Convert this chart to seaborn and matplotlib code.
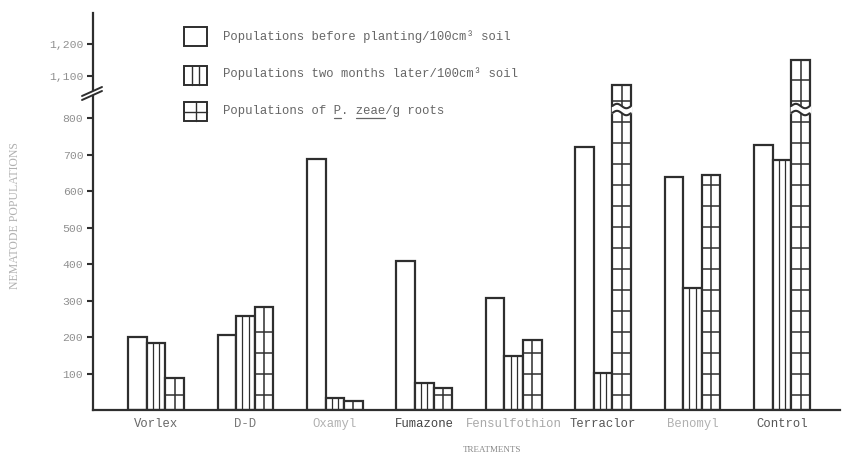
import numpy as np
import pandas as pd
import matplotlib
matplotlib.use('Agg')
import matplotlib.pyplot as plt
import seaborn as sns
from matplotlib.lines import Line2D
from matplotlib.patches import Rectangle, Polygon

# ---------------- data ----------------
treatments = ['Vorlex', 'D-D', 'Oxamyl', 'Fumazone', 'Fensulfothion',
              'Terraclor', 'Benomyl', 'Control']
series = ['Populations before planting/100cm\u00b3 soil',
          'Populations two months later/100cm\u00b3 soil',
          'Populations of P. zeae/g roots']
before = [200, 205, 688, 408, 307, 720, 638, 726]
later = [184, 258, 33, 74, 148, 101, 334, 685]
roots = [88, 282, 25, 60, 192, 1072, 644, 1150]
ytick_values = [100, 200, 300, 400, 500, 600, 700, 800, 1100, 1200]
ytick_labels = ['100', '200', '300', '400', '500', '600', '700', '800',
                '1,100', '1,200']
label_colors = ['#666666', '#777777', '#b0b0b0', '#444444', '#a8a8a8',
                '#555555', '#b0b0b0', '#555555']

EDGE = '#2e2e2e'
W, H = 848, 455


# broken-axis scale: linear to 800, compressed 800-1000, then linear again
def fwd(v):
    v = np.asarray(v, dtype=float)
    return np.where(v <= 800, v * 0.365,
                    np.where(v <= 1000, 292 + (v - 800) * 0.05,
                             302 + (v - 1000) * 0.32))


def inv(y):
    y = np.asarray(y, dtype=float)
    return np.where(y <= 292, y / 0.365,
                    np.where(y <= 302, 800 + (y - 292) / 0.05,
                             1000 + (y - 302) / 0.32))


sns.set_style('white')
plt.rcParams['font.family'] = ['Liberation Mono', 'DejaVu Sans']

fig = plt.figure(figsize=(W / 100, H / 100), dpi=100)
ax = fig.add_axes([93 / W, 45 / H, 747 / W, 397 / H])

df = pd.DataFrame({
    'treatment': treatments * 3,
    'series': [series[0]] * len(treatments) + [series[1]] * len(treatments)
              + [series[2]] * len(treatments),
    'value': before + later + roots,
})

sns.barplot(data=df, x='treatment', y='value', hue='series',
            order=treatments, hue_order=series,
            palette=['white'] * 3, saturation=1, edgecolor=EDGE,
            linewidth=1.6, width=0.625, errorbar=None, legend=False, ax=ax)

ax.set_yscale('function', functions=(fwd, inv))
ax.set_ylim(0, 1297)
ax.set_xlim(-0.705, 7.65)

# hatching of the second and third series
for rect in ax.containers[1]:
    x0, w, h = rect.get_x(), rect.get_width(), rect.get_height()
    ax.vlines([x0 + w / 3, x0 + 2 * w / 3], 0, h, color=EDGE, lw=0.9,
              zorder=1.5)

for rect in ax.containers[2]:
    x0, w, h = rect.get_x(), rect.get_width(), rect.get_height()
    ax.vlines([x0 + w / 2], 0, h, color=EDGE, lw=1.1, zorder=1.5)
    top_px = float(fwd(h))
    levels = np.arange(15, top_px - 4, 21.0)
    ax.hlines(inv(levels), x0, x0 + w, color=EDGE, lw=1.1, zorder=1.5)
    if h > 1000:
        xs = np.linspace(x0 - 0.012, x0 + w + 0.012, 60)
        t = (xs - x0) / w
        wave = 2.2 * np.sin(2 * np.pi * t)
        lo = 297 + wave
        hi = 304 + wave
        ax.fill_between(xs, inv(lo), inv(hi), color='white', lw=0, zorder=5)
        m = (xs >= x0) & (xs <= x0 + w)
        ax.plot(xs[m], inv(lo[m]), color=EDGE, lw=1.5, zorder=6)
        ax.plot(xs[m], inv(hi[m]), color=EDGE, lw=1.5, zorder=6)

# axes styling
for s in ['top', 'right']:
    ax.spines[s].set_visible(False)
for s in ['left', 'bottom']:
    ax.spines[s].set_color(EDGE)
    ax.spines[s].set_linewidth(1.6)

ax.set_yticks(ytick_values)
ax.set_yticklabels(ytick_labels)
ax.tick_params(axis='y', left=True, direction='out', length=4, width=1.5,
               color=EDGE, labelsize=8.2, labelcolor='#909090', pad=3)
ax.tick_params(axis='x', bottom=False, length=0, pad=6, labelsize=8.8)
for lab, c in zip(ax.get_xticklabels(), label_colors):
    lab.set_color(c)
ax.set_xlabel('')
ax.set_ylabel('')
ax.grid(False)


def fx(px):
    return px / W


def fy(py):
    return 1 - py / H


# y-axis break marks
fig.add_artist(Polygon([(fx(82), fy(99)), (fx(102), fy(91)),
                        (fx(102), fy(87)), (fx(82), fy(95))],
                       closed=True, transform=fig.transFigure,
                       facecolor='white', edgecolor='none', zorder=3))
for dy in (0, 4):
    fig.add_artist(Line2D([fx(82), fx(102)], [fy(100 - dy), fy(91 - dy)],
                          transform=fig.transFigure, color=EDGE, lw=1.4,
                          zorder=4))

# axis titles
fig.text(fx(15), fy(216), 'NEMATODE POPULATIONS', rotation=90,
         family='Liberation Serif', size=8.5, color='#b0b0b0',
         ha='center', va='center')
fig.text(fx(492), fy(450), 'TREATMENTS', family='Liberation Serif',
         size=6.5, color='#888888', ha='center', va='center')

# legend (drawn by hand, as in the original)
box_tops = [27, 66, 102]
text_y = [37, 74, 111]
for i, (bt, ty, lab) in enumerate(zip(box_tops, text_y, series)):
    x0, x1, y0, y1 = 184, 207, bt, bt + 19
    fig.add_artist(Rectangle((fx(x0), fy(y1)), fx(x1) - fx(x0),
                             fy(y0) - fy(y1), transform=fig.transFigure,
                             facecolor='white', edgecolor=EDGE, lw=1.4))
    if i == 1:
        for xx in (x0 + 23 / 3, x0 + 46 / 3):
            fig.add_artist(Line2D([fx(xx), fx(xx)], [fy(y0), fy(y1)],
                                  transform=fig.transFigure, color=EDGE,
                                  lw=1.0))
    if i == 2:
        xm, ym = (x0 + x1) / 2, (y0 + y1) / 2
        fig.add_artist(Line2D([fx(xm), fx(xm)], [fy(y0), fy(y1)],
                              transform=fig.transFigure, color=EDGE, lw=1.0))
        fig.add_artist(Line2D([fx(x0), fx(x1)], [fy(ym), fy(ym)],
                              transform=fig.transFigure, color=EDGE, lw=1.0))
    t = fig.text(fx(223), fy(ty), lab, size=8.8, color='#666666',
                 family='Liberation Mono', va='center', ha='left')
    if i == 2:
        fig.canvas.draw()
        bb = t.get_window_extent()
        cw = bb.width / len(lab)
        uy = fy(ty + 7)
        for a, b in ((15, 16), (18, 22)):
            fig.add_artist(Line2D([(bb.x0 + a * cw) / W, (bb.x0 + b * cw) / W],
                                  [uy, uy], transform=fig.transFigure,
                                  color='#666666', lw=0.9))

fig.savefig('out.png', dpi=100, facecolor='white')
